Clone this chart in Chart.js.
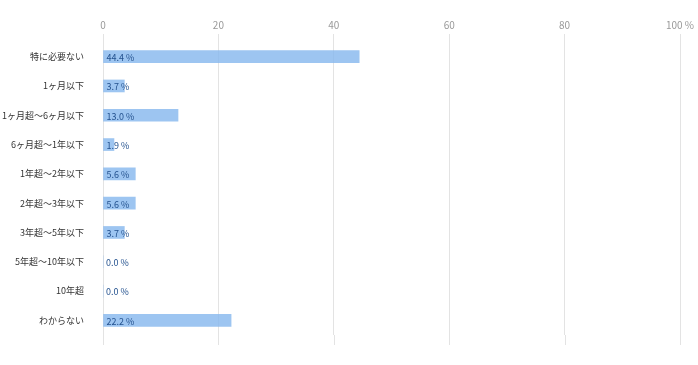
<!DOCTYPE html>
<html>
<head>
<meta charset="utf-8">
<script src="https://cdn.jsdelivr.net/npm/chart.js@4"></script>
<style>
  html, body { margin: 0; padding: 0; background: #fff; }
  #wrap { width: 698px; height: 365px; }
</style>
</head>
<body>
<div id="wrap"><canvas id="chart"></canvas></div>
<script>
// カテゴリと値
const categories = ['特に必要ない', '1ヶ月以下', '1ヶ月超〜6ヶ月以下', '6ヶ月超〜1年以下', '1年超〜2年以下',
  '2年超〜3年以下', '3年超〜5年以下', '5年超〜10年以下', '10年超', 'わからない'];
const values = [44.4, 3.7, 13.0, 1.9, 5.6, 5.6, 3.7, 0.0, 0.0, 22.2];
const xTicks = [0, 20, 40, 60, 80, 100];

const FONT = "'Noto Sans CJK JP', 'Noto Sans', sans-serif";

// バーの中に値ラベルを描く
const valueLabels = {
  id: 'valueLabels',
  afterDatasetsDraw(chart) {
    const ctx = chart.ctx;
    const meta = chart.getDatasetMeta(0);
    ctx.save();
    ctx.font = '9px ' + FONT;
    ctx.fillStyle = '#24528f';
    ctx.textAlign = 'left';
    ctx.textBaseline = 'middle';
    meta.data.forEach((bar, i) => {
      ctx.fillText(values[i].toFixed(1) + ' %', bar.base + 3, bar.y + 1);
    });
    ctx.restore();
  }
};

// グリッド線を下に少し延ばす
const gridExtend = {
  id: 'gridExtend',
  beforeDatasetsDraw(chart) {
    const ctx = chart.ctx;
    const x = chart.scales.x;
    const area = chart.chartArea;
    ctx.save();
    ctx.strokeStyle = '#e3e3e3';
    ctx.lineWidth = 1;
    xTicks.forEach(v => {
      const px = Math.round(x.getPixelForValue(v)) + 0.5;
      ctx.beginPath();
      ctx.moveTo(px, area.bottom);
      ctx.lineTo(px, area.bottom + 10);
      ctx.stroke();
    });
    ctx.restore();
  }
};

new Chart(document.getElementById('chart'), {
  type: 'bar',
  data: {
    labels: categories,
    datasets: [{
      data: values,
      backgroundColor: 'rgba(133, 183, 238, 0.8)',
      barThickness: 12,
      borderWidth: 0
    }]
  },
  options: {
    indexAxis: 'y',
    responsive: true, maintainAspectRatio: false,
    animation: false,
    layout: { padding: { left: 0, right: 18, top: 16, bottom: 30 } },
    plugins: { legend: { display: false }, tooltip: { enabled: false } },
    scales: {
      x: {
        position: 'top',
        min: 0, max: 100,
        afterBuildTicks: s => { s.ticks = xTicks.map(v => ({ value: v })); },
        grid: { color: '#e3e3e3', tickLength: 8, drawTicks: true },
        border: { display: false },
        ticks: {
          color: '#999', padding: 3,
          font: { family: FONT, size: 10 },
          callback: v => v === 100 ? '100 %' : v
        }
      },
      y: {
        afterFit: s => { s.width = 103; },
        grid: { display: false, drawTicks: false },
        border: { display: false },
        ticks: {
          color: '#333', padding: 19,
          font: { family: FONT, size: 9 }
        }
      }
    }
  },
  plugins: [valueLabels, gridExtend]
});
</script>
</body>
</html>
